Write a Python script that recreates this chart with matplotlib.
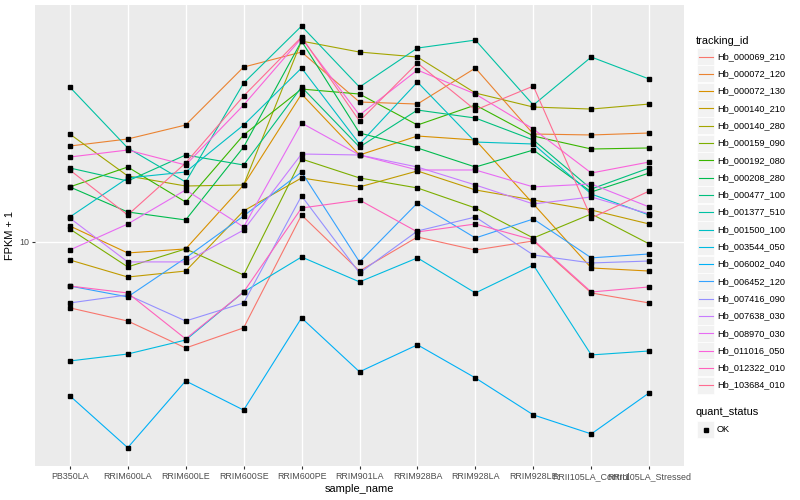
import matplotlib
matplotlib.use("Agg")
import matplotlib.pyplot as plt
from matplotlib.patches import Rectangle
from matplotlib.ticker import NullLocator
import numpy as np

plt.rcParams['font.family'] = ['Liberation Sans', 'DejaVu Sans']

samples = ["PB350LA", "RRIM600LA", "RRIM600LE", "RRIM600SE", "RRIM600PE", "RRIM901LA",
           "RRIM928BA", "RRIM928LA", "RRIM928LE", "RRII105LA_Control", "RRII105LA_Stressed"]

tracking_ids = ["Hb_000069_210", "Hb_000072_120", "Hb_000072_130", "Hb_000140_210",
                "Hb_000140_280", "Hb_000159_090", "Hb_000192_080", "Hb_000208_280",
                "Hb_000477_100", "Hb_001377_510", "Hb_001500_100", "Hb_003544_050",
                "Hb_006002_040", "Hb_006452_120", "Hb_007416_090", "Hb_007638_030",
                "Hb_008970_030", "Hb_011016_050", "Hb_012322_010", "Hb_103684_010"]

colors = ["#F8766D", "#EA8331", "#D89000", "#C09B00", "#A3A500", "#7CAE00", "#39B600",
          "#00BB4E", "#00BF7D", "#00C1A3", "#00BFC4", "#00BAE0", "#00B0F6", "#35A2FF",
          "#9590FF", "#C77CFF", "#E76BF3", "#FA62DB", "#FF62BC", "#FF6C91"]

# FPKM + 1 values per gene, in sample order
hb_000069_210 = [6.03, 5.45, 4.43, 5.17, 12.3, 8.0, 10.39, 9.4, 10.08, 6.76, 6.26]
hb_000072_120 = [20.89, 22.05, 24.55, 38.31, 42.99, 29.29, 28.84, 38.02, 22.91, 22.74, 23.09]
hb_000072_130 = [11.31, 9.19, 9.48, 15.49, 31.14, 19.5, 22.56, 21.88, 13.39, 8.19, 8.0]
hb_000140_210 = [8.71, 7.64, 8.0, 12.69, 16.35, 15.26, 17.25, 14.91, 13.8, 12.78, 11.48]
hb_000140_280 = [22.91, 16.6, 15.37, 15.49, 46.77, 42.99, 41.38, 31.38, 28.18, 27.75, 28.84]
hb_000159_090 = [11.05, 8.26, 9.48, 7.76, 18.91, 16.35, 15.14, 12.98, 10.31, 12.4, 9.85]
hb_000192_080 = [15.26, 17.78, 13.59, 22.74, 32.36, 31.14, 24.55, 28.62, 22.56, 20.42, 20.58]
hb_000208_280 = [15.26, 12.59, 11.84, 20.73, 46.77, 23.09, 20.58, 17.78, 20.26, 14.68, 16.98]
hb_000477_100 = [17.65, 15.97, 19.5, 18.06, 32.86, 20.73, 27.54, 25.9, 21.88, 15.02, 17.65]
hb_001377_510 = [32.86, 20.58, 15.85, 33.88, 52.48, 32.86, 44.33, 47.13, 28.62, 41.38, 34.94]
hb_001500_100 = [12.11, 16.35, 17.11, 24.55, 38.02, 21.22, 34.14, 21.54, 21.22, 14.45, 12.3]
hb_003544_050 = [4.01, 4.23, 4.71, 6.81, 8.91, 7.36, 8.85, 6.76, 8.38, 4.2, 4.33]
hb_006002_040 = [3.07, 2.06, 3.44, 2.75, 5.58, 3.69, 4.54, 3.52, 2.65, 2.29, 3.14]
hb_006452_120 = [7.13, 6.56, 8.85, 12.21, 17.11, 8.58, 13.49, 10.31, 11.93, 8.85, 9.12]
hb_007416_090 = [6.26, 6.66, 5.45, 6.26, 14.24, 7.88, 10.88, 12.11, 9.05, 8.51, 8.64]
hb_007638_030 = [12.02, 8.58, 8.58, 10.96, 19.65, 19.5, 17.78, 15.49, 13.39, 14.13, 12.4]
hb_008970_030 = [9.4, 11.48, 14.91, 11.22, 24.93, 19.5, 17.38, 17.38, 15.26, 15.61, 13.08]
hb_011016_050 = [19.2, 20.26, 18.06, 28.62, 47.86, 26.5, 37.44, 31.14, 23.81, 16.98, 18.48]
hb_012322_010 = [7.13, 6.76, 4.75, 6.81, 12.98, 13.8, 10.8, 11.48, 10.16, 6.81, 7.08]
hb_103684_010 = [17.38, 12.3, 18.34, 30.67, 48.23, 25.31, 39.51, 27.54, 33.11, 12.02, 14.79]

series = [hb_000069_210, hb_000072_120, hb_000072_130, hb_000140_210, hb_000140_280,
          hb_000159_090, hb_000192_080, hb_000208_280, hb_000477_100, hb_001377_510,
          hb_001500_100, hb_003544_050, hb_006002_040, hb_006452_120, hb_007416_090,
          hb_007638_030, hb_008970_030, hb_011016_050, hb_012322_010, hb_103684_010]

quant_status = ["OK"]

fig = plt.figure(figsize=(8, 5), dpi=100)
ax = fig.add_axes([35 / 800, 34 / 500, 649 / 800, 461 / 500])
ax.set_facecolor('#EBEBEB')
x = np.arange(len(samples))
for vals, c in zip(series, colors):
    ax.plot(x, vals, color=c, lw=0.8, zorder=2, solid_capstyle='butt')
for vals in series:
    ax.plot(x, vals, ls='none', marker='s', ms=2.2, color='black', zorder=3)

ax.set_yscale('log')
ax.set_ylim(1.79, 61.7)
ax.set_xlim(-0.6, 10.6)
ax.set_yticks([10])
ax.set_yticklabels(['10'])
ax.yaxis.set_minor_locator(NullLocator())
ax.set_xticks(x)
ax.set_xticklabels(samples)
ax.grid(True, which='major', color='white', lw=1.0)
ax.set_axisbelow(True)
for s in ax.spines.values():
    s.set_visible(False)
ax.tick_params(length=2.2, width=0.8, color='#333333', labelsize=6.4,
               labelcolor='#4D4D4D', pad=2.2)
ax.set_xlabel('sample_name', fontsize=7.9, labelpad=2)
ax.set_ylabel('FPKM + 1', fontsize=7.9, labelpad=3)

# legend drawn in pixel coordinates
lax = fig.add_axes([0, 0, 1, 1])
lax.set_xlim(0, 800)
lax.set_ylim(500, 0)
lax.axis('off')
lax.text(696, 40.5, 'tracking_id', fontsize=7.9, va='center', ha='left')
for i, (name, c) in enumerate(zip(tracking_ids, colors)):
    yc = 56.5 + i * 17.3
    lax.add_patch(Rectangle((697, yc - 8.5), 17, 17, facecolor='#F2F2F2',
                            edgecolor='white', lw=0.5))
    lax.plot([698.5, 712.5], [yc, yc], color=c, lw=0.8)
    lax.text(717, yc, name, fontsize=6.6, va='center', ha='left')
lax.text(696, 412, 'quant_status', fontsize=7.9, va='center', ha='left')
for j, qs in enumerate(quant_status):
    yc = 429.5 + j * 17.3
    lax.add_patch(Rectangle((697, yc - 8.5), 17, 17, facecolor='#F2F2F2',
                            edgecolor='white', lw=0.5))
    lax.plot([705.5], [yc], marker='s', ms=2.2, color='black')
    lax.text(717, yc, qs, fontsize=6.6, va='center', ha='left')

fig.savefig('out.png', dpi=100)
